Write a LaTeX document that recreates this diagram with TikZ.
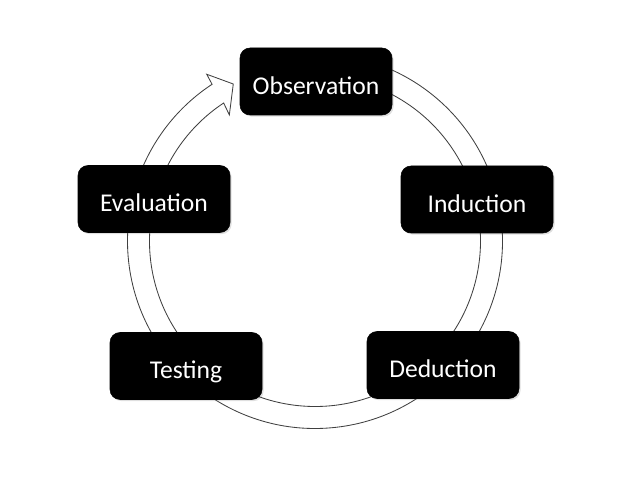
\documentclass[tikz,border=0pt]{standalone}
\usepackage{fontspec}
\setmainfont{Carlito}
\usetikzlibrary{calc,shadows}
\begin{document}
\begin{tikzpicture}[
		stage/.style={draw=black, fill=black, rounded corners=0.25cm, minimum width=3.8cm, minimum height=1.675cm, text=white, font=\fontsize{18.2}{21}\selectfont, text height=18pt, text depth=0pt, drop shadow={opacity=0.25, shadow xshift=0.04cm, shadow yshift=-0.04cm}},
		band/.style={draw=black!75, fill=white, line width=0.6pt, line join=miter}
	]
			\useasboundingbox (0,0) rectangle (15.8,12.05);
			\coordinate (c) at (7.875,6.025);
			
			% cycle arrow
			\draw[band] ($(c)+(95:4.6875)$) arc[start angle=95, end angle=-236.7, radius=4.6875]
			-- ($(c)+(-237:4.97)$) -- ($(c)+(-242.5:4.425)$) -- ($(c)+(-235.8:3.81)$)
			-- ($(c)+(-236.5:4.1375)$) arc[start angle=-236.5, end angle=95, radius=4.1375] -- cycle;
			
			\node	(obs) at (7.9,10.0125) [stage] {Observation};
			\node	(ind) at (11.925,7.0625) [stage] {Induction};
			\node	(ded) at (11.075,2.925) [stage] {Deduction};
			\node	(tes) at (4.65,2.9) [stage] {Testing};
			\node	(eva) at (3.85,7.075) [stage] {Evaluation};
		\end{tikzpicture}
\end{document}
